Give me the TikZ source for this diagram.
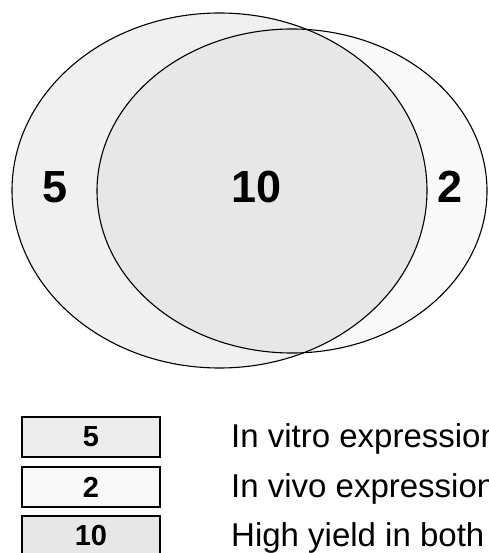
\documentclass[tikz,border=0pt]{standalone}
\usepackage{fontspec}
\setmainfont{Liberation Sans}
\begin{document}
\begin{tikzpicture}[x=1pt,y=-1pt,
  outl/.style={draw=black,line width=1.1pt},
  bignum/.style={font=\fontsize{45}{45}\selectfont\bfseries,inner sep=0pt},
  legbox/.style={draw=black,line width=1.3pt,minimum width=138pt,minimum height=40pt,inner sep=0pt,font=\fontsize{29}{29}\selectfont\bfseries},
  legtext/.style={anchor=base west,inner sep=0pt,font=\fontsize{33}{33}\selectfont}]
\useasboundingbox (0,0) rectangle (488,553);
\fill[white] (0,0) rectangle (488,553);
% ellipses
\fill[fill={rgb,255:red,240;green,240;blue,240}] (219.5,190.5) ellipse [x radius=207.5, y radius=177.5];
\fill[fill={rgb,255:red,249;green,249;blue,249}] (292,191) ellipse [x radius=195, y radius=162];
\begin{scope}
\clip (219.5,190.5) ellipse [x radius=207.5, y radius=177.5];
\fill[fill={rgb,255:red,231;green,231;blue,231}] (292,191) ellipse [x radius=195, y radius=162];
\end{scope}
\draw[outl] (219.5,190.5) ellipse [x radius=207.5, y radius=177.5];
\draw[outl] (292,191) ellipse [x radius=195, y radius=162];
\node[bignum] (n5) at (55,187) {5};
\node[bignum] (n10) at (257,187) {10};
\node[bignum] (n2) at (450,187) {2};
% legend
\node[legbox,fill={rgb,255:red,236;green,236;blue,236}] (b1) at (91,437) {5};
\node[legbox,fill={rgb,255:red,249;green,249;blue,249}] (b2) at (91,487) {2};
\node[legbox,fill={rgb,255:red,231;green,231;blue,231}] (b3) at (91,536) {10};
\node[legtext] (t1) at (231,447.5) {In vitro expression};
\node[legtext] (t2) at (231,497) {In vivo expression};
\node[legtext] (t3) at (231,546) {High yield in both};
\end{tikzpicture}
\end{document}
